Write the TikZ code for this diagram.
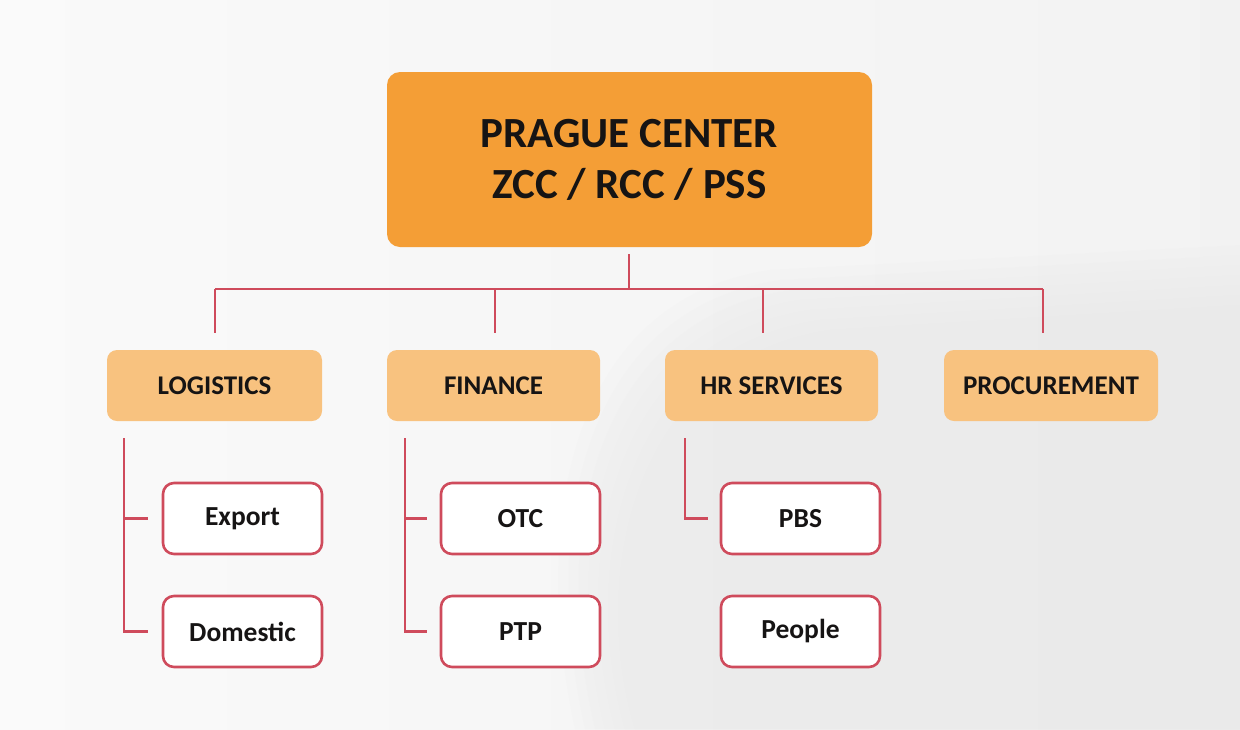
\documentclass[tikz,border=0pt]{standalone}
\usepackage{fontspec}
\setmainfont{Carlito}
\usetikzlibrary{calc}

\definecolor{topfill}{HTML}{F49E36}
\definecolor{unitfill}{HTML}{F8C27F}
\definecolor{linkred}{HTML}{CF4B5C}
\definecolor{inktext}{HTML}{161414}

\tikzset{
  headbox/.style={rectangle, rounded corners=13pt, fill=topfill,
    minimum width=485pt, minimum height=175pt, inner sep=0pt,
    font=\bfseries\fontsize{43}{51}\selectfont, text=inktext, align=center},
  unitbox/.style={rectangle, rounded corners=10pt, fill=unitfill,
    minimum height=71pt, inner sep=0pt,
    font=\bfseries\fontsize{27}{30}\selectfont, text=inktext},
  teambox/.style={rectangle, rounded corners=11pt, fill=white, draw=linkred,
    line width=2.6pt, minimum width=159pt, minimum height=71pt, inner sep=0pt,
    font=\bfseries\fontsize{27.5}{30}\selectfont, text=inktext},
  link/.style={draw=linkred, line width=2.8pt},
}

\begin{document}
\begin{tikzpicture}[x=1pt,y=-1pt]
  % canvas and soft backdrop
  \useasboundingbox (0,0) rectangle (1240,729);
  \shade[left color=white!98!black, right color=white!95!black] (0,0) rectangle (1240,729);
  \foreach \g in {0,10,...,60} {
    \fill[black!9, opacity=0.12]
      ($(575,729)+(\g,0)$) .. controls ($(530,520)+(\g,\g)$) and ($(570,300)+(\g,\g)$) .. ($(770,270)+(\g,\g)$)
      -- ($(1240,245)+(0,\g)$) -- (1240,729) -- cycle;
  }

  % head office
  \node[headbox] (top) at (629.5,159.5) {PRAGUE CENTER\\ZCC / RCC / PSS};

  % units
  \node[unitbox, minimum width=215pt] (log) at (214.5,385.5) {LOGISTICS};
  \node[unitbox, minimum width=213pt] (fin) at (493.5,385.5) {FINANCE};
  \node[unitbox, minimum width=213pt] (hrs) at (771.5,385.5) {HR SERVICES};
  \node[unitbox, minimum width=214pt] (pro) at (1051,385.5) {PROCUREMENT};

  % teams
  \node[teambox] (exp) at (242.5,518.5) {Export};
  \node[teambox] (dom) at (242.5,631.5) {Domestic};
  \node[teambox] (otc) at (520.5,518.5) {OTC};
  \node[teambox] (ptp) at (520.5,631.5) {PTP};
  \node[teambox] (pbs) at (800.5,518.5) {PBS};
  \node[teambox] (ppl) at (800.5,631.5) {People};

  % bus from head office to the units
  \coordinate (bus) at (629,289);
  \coordinate (dL) at (215,289);
  \coordinate (dF) at (495,289);
  \coordinate (dH) at (763,289);
  \coordinate (dP) at (1043,289);
  \draw[link, shorten <=7pt] (top.south -| bus) -- (bus);
  \draw[link] (dL) -- (dP);
  \foreach \d/\u in {dL/log,dF/fin,dH/hrs,dP/pro}
    \draw[link, shorten >=17pt, line cap=butt] (\d) -- (\d |- \u.north);

  % brackets from the units to their teams
  \coordinate (bL) at (124,438);
  \coordinate (bF) at (405,438);
  \coordinate (bH) at (685,438);
  \draw[link, shorten >=14pt] (bL) |- (dom.west);
  \draw[link, shorten >=14pt] (bL |- exp.west) -- (exp.west);
  \draw[link, shorten >=13pt] (bF) |- (ptp.west);
  \draw[link, shorten >=13pt] (bF |- otc.west) -- (otc.west);
  \draw[link, shorten >=12pt] (bH) |- (pbs.west);
\end{tikzpicture}
\end{document}
